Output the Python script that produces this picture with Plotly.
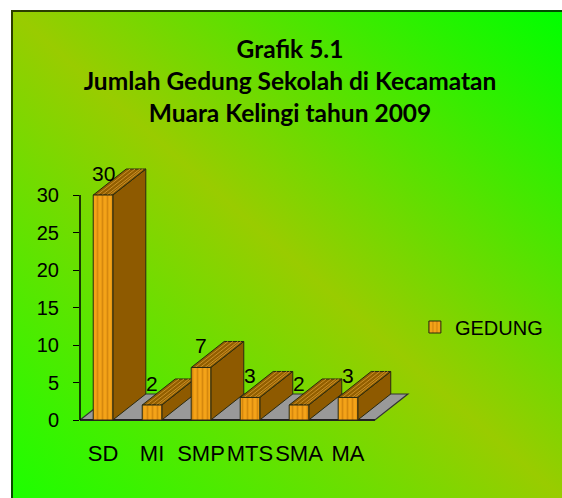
import base64
import plotly.graph_objects as go

# ---- data ----
categories = ["SD", "MI", "SMP", "MTS", "SMA", "MA"]
values = [30, 2, 7, 3, 2, 3]
y_ticks = [0, 5, 10, 15, 20, 25, 30]
series_name = "GEDUNG"
title_lines = ["Grafik 5.1", "Jumlah Gedung Sekolah di Kecamatan", "Muara Kelingi tahun 2009"]

# ---- geometry / style ----
W, H = 562, 498
ML, MR, MT, MB = 80, 142, 160, 75
BW = 0.4               # bar width (category units)
DX, DY = 0.673, 3.47   # oblique depth offset in data units
X_LO, X_HI = -0.47, 6.47
Y_LO, Y_HI = -0.4, 34.67
FLOOR_RIGHT = len(categories) - 0.45

FRONT_BG = "#F4A318"
FRONT_FG = "#B86E04"
SIDE = "#8E5A00"
TOP_BG = "#935F00"
TOP_FG = "#C98F28"
EDGE = "#2A2A10"

xs = list(range(len(categories)))


def poly(pts):
    return "M " + " L ".join(f"{x},{y}" for x, y in pts) + " Z"


fig = go.Figure()

# floor (below everything)
fig.add_shape(type="path", xref="x", yref="y", layer="below",
              path=poly([(X_LO, 0), (FLOOR_RIGHT, 0), (FLOOR_RIGHT + DX, DY), (X_LO + DX, DY)]),
              fillcolor="#999999", line=dict(color="#333333", width=1.2))
fig.add_shape(type="line", xref="x", yref="y", layer="below",
              x0=X_LO, x1=FLOOR_RIGHT, y0=0, y1=0, line=dict(color="#222222", width=2))

# side faces
for x, v in zip(xs, values):
    r = x + BW / 2
    fig.add_shape(type="path", xref="x", yref="y", layer="below",
                  path=poly([(r, 0), (r + DX, DY), (r + DX, v + DY), (r, v)]),
                  fillcolor=SIDE, line=dict(color=EDGE, width=1))

# top faces with wood stripes
for x, v in zip(xs, values):
    l, r = x - BW / 2, x + BW / 2
    fig.add_shape(type="path", xref="x", yref="y", layer="below",
                  path=poly([(l, v), (r, v), (r + DX, v + DY), (l + DX, v + DY)]),
                  fillcolor=TOP_BG, line=dict(color=EDGE, width=1))
    segs = []
    for f in (0.2, 0.45, 0.7, 0.85):
        px = l + f * BW
        segs.append(f"M {px},{v} L {px + DX},{v + DY}")
    fig.add_shape(type="path", xref="x", yref="y", layer="below", path=" ".join(segs),
                  line=dict(color=TOP_FG, width=1))

# front faces (the actual bars)
fig.add_trace(go.Bar(x=xs, y=values, width=BW, name=series_name,
                     marker=dict(color=FRONT_BG,
                                 pattern=dict(shape="|", bgcolor=FRONT_BG, fgcolor=FRONT_FG,
                                              size=5, solidity=0.35),
                                 line=dict(color=EDGE, width=1)),
                     hoverinfo="x+y", showlegend=True))

# value labels
for x, v in zip(xs, values):
    fig.add_annotation(x=x, y=v, text=str(v), showarrow=False, yshift=22,
                       font=dict(family="Arial, Liberation Sans", size=21, color="black"))

# y axis line from 0 to the top tick
fig.add_shape(type="line", xref="paper", yref="y", x0=0, x1=0, y0=y_ticks[0], y1=y_ticks[-1],
              line=dict(color="black", width=1.5))

# gradient background of chart area
svg = '''<svg xmlns="http://www.w3.org/2000/svg" width="551" height="488" viewBox="0 0 551 488" preserveAspectRatio="none">
<defs><linearGradient id="g" x1="0" y1="1" x2="1" y2="0">
<stop offset="0" stop-color="#1CFF00"/><stop offset="0.5" stop-color="#99CC00"/><stop offset="1" stop-color="#00FF00"/>
</linearGradient></defs>
<rect x="0" y="0" width="551" height="488" fill="url(#g)"/>
<path d="M1,488 L1,1 L551,1" fill="none" stroke="rgba(0,0,0,0.7)" stroke-width="2"/>
</svg>'''
src = "data:image/svg+xml;base64," + base64.b64encode(svg.encode()).decode()
pw, ph = W - ML - MR, H - MT - MB
fig.add_layout_image(dict(source=src, xref="paper", yref="paper",
                          x=(11 - ML) / pw, y=(H - MB - 10) / ph,
                          sizex=551 / pw, sizey=488 / ph,
                          xanchor="left", yanchor="top", sizing="stretch", layer="below"))

fig.update_layout(
    width=W, height=H,
    margin=dict(l=ML, r=MR, t=MT, b=MB),
    paper_bgcolor="white", plot_bgcolor="rgba(0,0,0,0)",
    font=dict(family="Arial, Liberation Sans", size=20, color="black"),
    title=dict(text="<br>".join(f"<b>{t}</b>" for t in title_lines),
               font=dict(family="Lato", size=24.5, color="black"),
               x=290 / W, xanchor="center", xref="container",
               y=1 - 58 / H, yanchor="top", yref="container"),
    xaxis=dict(range=[X_LO, X_HI], tickvals=xs, ticktext=categories, showgrid=False,
               zeroline=False, showline=False, ticks="", ticklabelstandoff=15,
               tickangle=0, tickfont=dict(size=22)),
    yaxis=dict(range=[Y_LO, Y_HI], tickvals=y_ticks, showgrid=False, zeroline=False,
               showline=False, ticks="outside", ticklen=6, tickwidth=1.2, tickcolor="black",
               ticklabelstandoff=10, tickfont=dict(size=20)),
    legend=dict(x=0.985, xanchor="left", y=(423 - 327) / (H - MT - MB), yanchor="middle",
                bgcolor="rgba(0,0,0,0)", font=dict(size=20)),
    showlegend=True,
)

fig.write_html("out.html", config={"displayModeBar": False},
               post_script="document.body.style.margin='0px';")
